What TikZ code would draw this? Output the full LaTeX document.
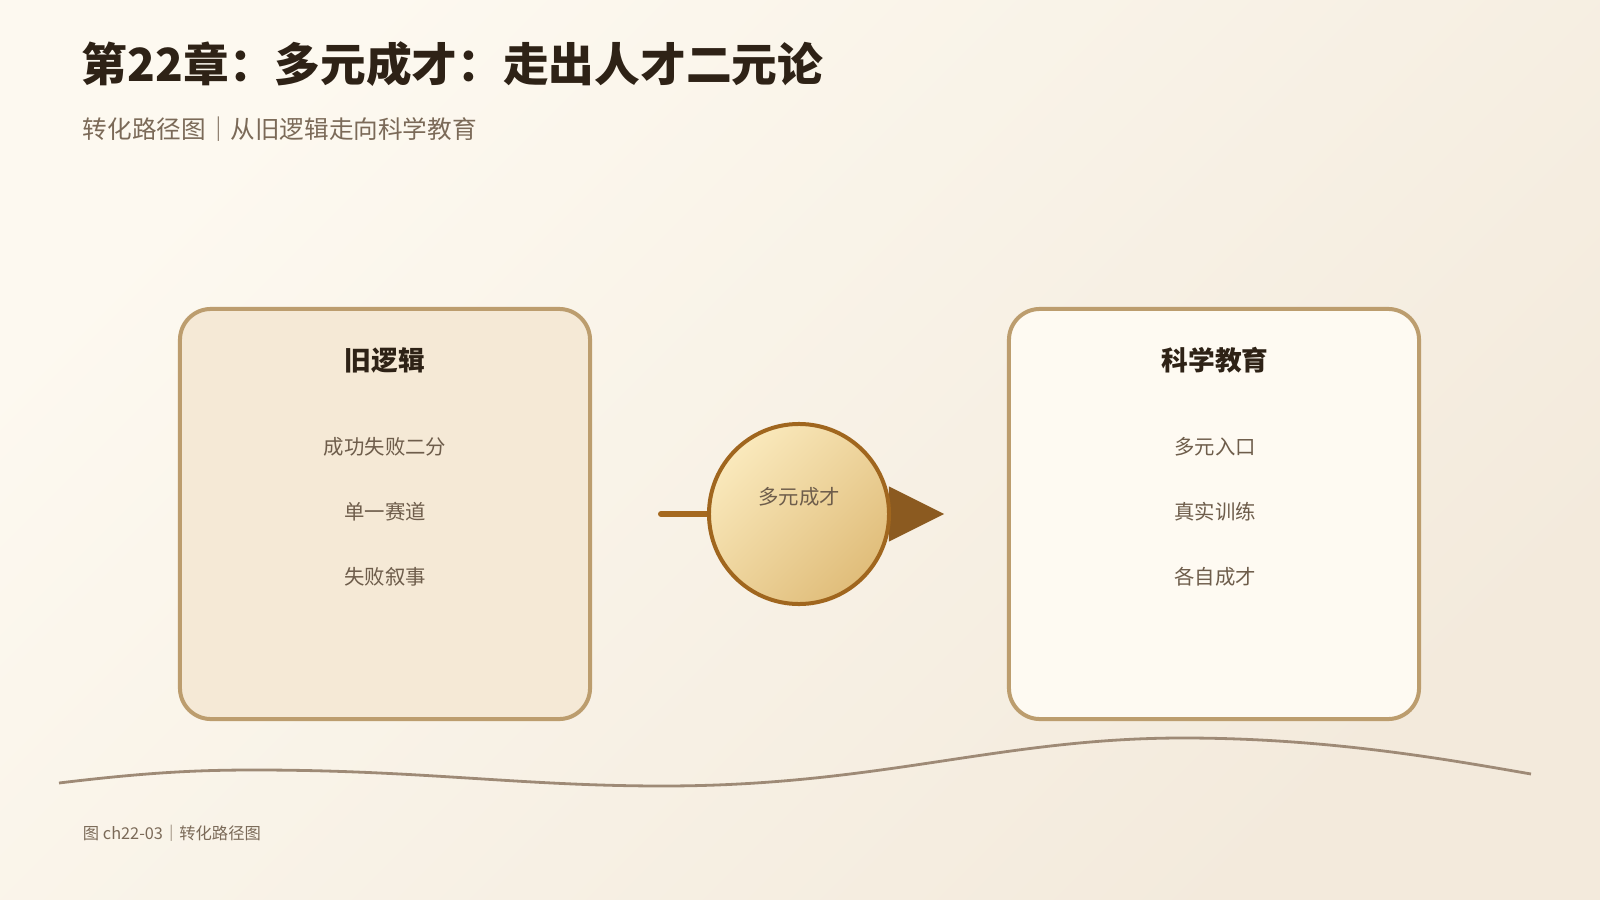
\documentclass[tikz,border=0pt]{standalone}
\usepackage{fontspec}
\setmainfont{Noto Sans CJK SC}
\usepackage{tikz}
\usetikzlibrary{positioning, arrows.meta}
\definecolor{ink}{HTML}{2E2216}
\definecolor{subink}{HTML}{7B6A58}
\definecolor{itemink}{HTML}{6E5D4B}
\definecolor{rim}{HTML}{BC9D6E}
\definecolor{oldfill}{HTML}{F5E9D6}
\definecolor{newfill}{HTML}{FEFAF2}
\definecolor{hubrim}{HTML}{A0661E}
\definecolor{hubtop}{HTML}{FAE9BC}
\definecolor{hubbottom}{HTML}{E0BD7A}
\definecolor{flowline}{HTML}{A5691F}
\definecolor{flowhead}{HTML}{8B5A20}
\definecolor{waveline}{HTML}{9E8A76}
\definecolor{bgtop}{HTML}{FDF9F0}
\definecolor{bgmid}{HTML}{FFFDF8}
\definecolor{bgbottom}{HTML}{F3EADC}
\tikzstyle{panel} = [rectangle, rounded corners=0.775cm, minimum width=10.25cm, minimum height=10.25cm, line width=0.1cm, draw=rim]
\tikzstyle{old panel} = [panel, fill=oldfill]
\tikzstyle{new panel} = [panel, fill=newfill]
\tikzstyle{heading} = [font=\bfseries\fontsize{19pt}{23pt}\selectfont, text=ink]
\tikzstyle{item} = [font=\fontsize{14.5pt}{18pt}\selectfont, text=itemink]
\tikzstyle{hub} = [circle, minimum size=4.5cm, line width=0.1cm, draw=hubrim, top color=hubtop, bottom color=hubbottom, shading angle=45]
\tikzstyle{arrow} = [line width=0.15cm, line cap=round, draw=flowline, -{Triangle[length=1.375cm, width=1.375cm, color=flowhead, line width=0pt]}]
\tikzstyle{wave} = [line width=0.07cm, draw=waveline]

\begin{document}
\begin{tikzpicture}[x=0.025cm, y=-0.025cm, node distance=1.625cm, on grid]
        % background
        \fill[top color=bgtop, middle color=bgmid, bottom color=bgbottom, shading angle=45] (0,0) rectangle (1600,900);
        \useasboundingbox (0,0) rectangle (1600,900);

        % headings
        \node[anchor=west, text=ink, font=\bfseries\fontsize{32.5pt}{38pt}\selectfont] (title) at (77,64) {第22章：多元成才：走出人才二元论};
        \node[anchor=west, text=subink, font=\fontsize{17.5pt}{21pt}\selectfont] (subtitle) at (78,129) {转化路径图｜从旧逻辑走向科学教育};

        % panels
        \node[old panel]                         (old)       at (385,514) {};
        \node[heading]                           (old title) at (385,360) {旧逻辑};
        \node[item, below=2.17cm of old title]   (old 1)     {成功失败二分};
        \node[item, below=of old 1]              (old 2)     {单一赛道};
        \node[item, below=of old 2]              (old 3)     {失败叙事};

        \node[new panel]                         (new)       at (1214,514) {};
        \node[heading]                           (new title) at (1215,360) {科学教育};
        \node[item, below=2.17cm of new title]   (new 1)     {多元入口};
        \node[item, below=of new 1]              (new 2)     {真实训练};
        \node[item, below=of new 2]              (new 3)     {各自成才};

        % flow through the hub
        \coordinate (flow in)  at (661,514);
        \coordinate (flow out) at (944,514);
        \draw[arrow] (flow in) -- (flow out);
        \node[hub]                               (hub)       at (799,514) {};
        \node[item]                              (hub text)  at ([yshift=0.43cm]hub.center) {多元成才};

        % wave
        \draw[wave] (59,783) .. controls (150,772) and (200,770) .. (255,770)
                             .. controls (420,770) and (520,786) .. (663,786)
                             .. controls (880,786) and (1000,738) .. (1183,738)
                             .. controls (1330,738) and (1450,760) .. (1531,774);

        % footer
        \node[anchor=west, text=subink, font=\fontsize{11.6pt}{14pt}\selectfont] (footer) at (78,833) {图 ch22-03｜转化路径图};
    \end{tikzpicture}
\end{document}
